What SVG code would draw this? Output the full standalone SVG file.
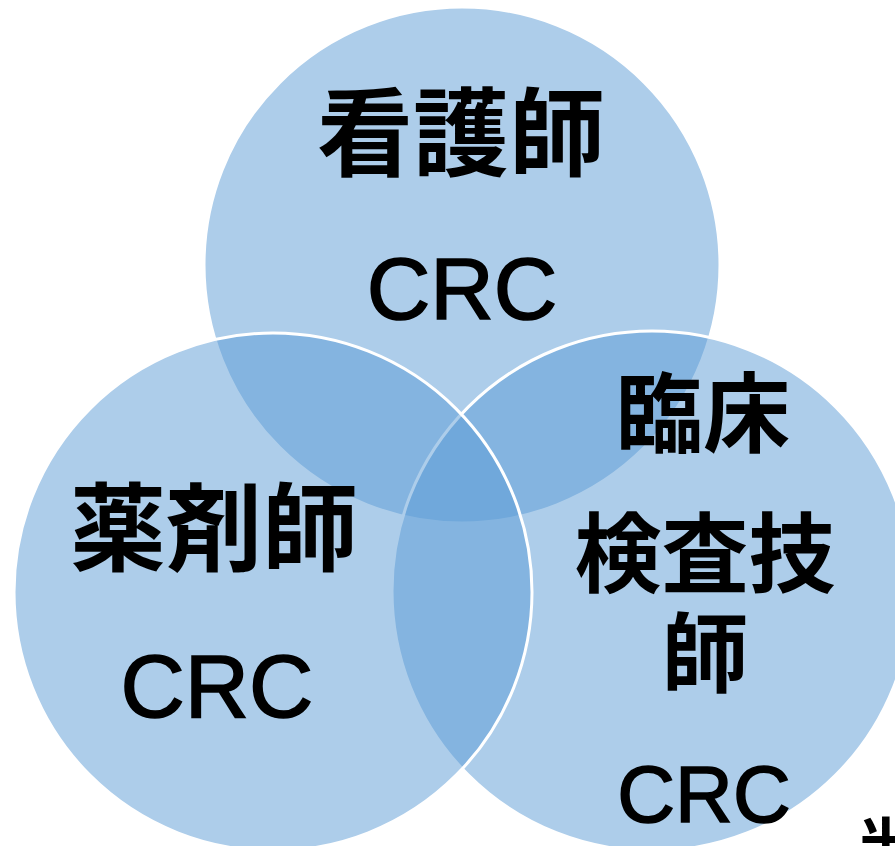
<svg xmlns="http://www.w3.org/2000/svg" width="895" height="846" viewBox="0 0 895 846">
<style>
.c{fill:#5B9BD5;fill-opacity:0.5;stroke:#ffffff;stroke-width:3}
.j{font-family:"Noto Sans CJK JP","Noto Sans CJK SC",sans-serif;font-weight:bold;fill:#000;text-anchor:middle}
.e{font-family:"Liberation Sans",Arial,sans-serif;fill:#000;stroke:#000;stroke-width:1.6;text-anchor:middle}
</style>
<rect width="895" height="846" fill="#ffffff"/>
<g id="nurse">
<circle class="c" cx="462" cy="265" r="258"/>
<text class="j" x="461" y="168" font-size="96">看護師</text>
<text class="e" x="462" y="319" font-size="88">CRC</text>
</g>
<g id="lab">
<circle class="c" cx="652" cy="591" r="260"/>
<text class="j" x="703" y="446" font-size="87">臨床</text>
<text class="j" x="705" y="586" font-size="87">検査技</text>
<text class="j" x="705" y="686" font-size="87">師</text>
<text class="e" x="704" y="822" font-size="80">CRC</text>
</g>
<g id="pharmacist">
<circle class="c" cx="273" cy="592" r="259"/>
<text class="j" x="214" y="563" font-size="96">薬剤師</text>
<text class="e" x="217" y="717" font-size="89">CRC</text>
</g>
<g id="connectors"></g>
<text class="j" x="886" y="868" font-size="60" text-anchor="start">半</text>
</svg>
